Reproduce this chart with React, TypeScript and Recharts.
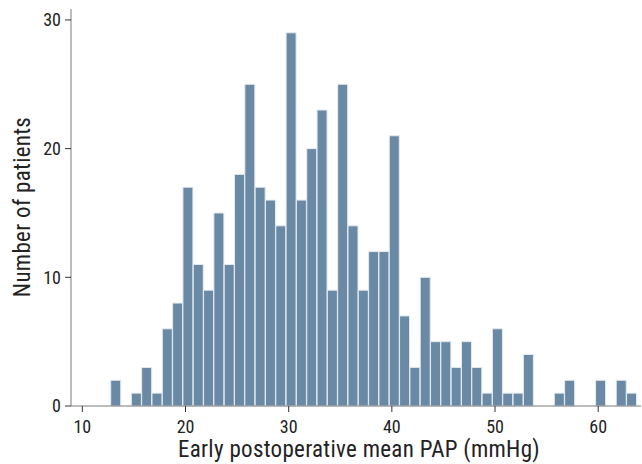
import { BarChart, Bar, XAxis, YAxis, Label } from 'recharts';

// histogram bins (left edge, width 1 mmHg) and patient counts
const binStarts = [
  12.75, 13.75, 14.75, 15.75, 16.75, 17.75, 18.75, 19.75, 20.75, 21.75,
  22.75, 23.75, 24.75, 25.75, 26.75, 27.75, 28.75, 29.75, 30.75, 31.75,
  32.75, 33.75, 34.75, 35.75, 36.75, 37.75, 38.75, 39.75, 40.75, 41.75,
  42.75, 43.75, 44.75, 45.75, 46.75, 47.75, 48.75, 49.75, 50.75, 51.75,
  52.75, 53.75, 54.75, 55.75, 56.75, 57.75, 58.75, 59.75, 60.75, 61.75,
  62.75,
];
const counts = [
  2, 0, 1, 3, 1, 6, 8, 17, 11, 9,
  15, 11, 18, 25, 17, 16, 14, 29, 16, 20,
  23, 9, 25, 14, 9, 12, 12, 21, 7, 3,
  10, 5, 5, 3, 5, 3, 1, 6, 1, 1,
  4, 0, 0, 1, 2, 0, 0, 2, 0, 2,
  1,
];
const binWidth = 1;
const xTicks = [10, 20, 30, 40, 50, 60];
const yTicks = [0, 10, 20, 30];

const data = binStarts.map((s, i) => ({ mid: s + binWidth / 2, count: counts[i] }));

const font = 'Roboto, sans-serif';
const tickStyle = { fill: '#222', fontSize: 18, fontFamily: font, fontStretch: 'condensed' };
const titleStyle = { fontStretch: 'condensed', letterSpacing: '0.3px' };

export default function App() {
  return (
    <div style={{ position: 'absolute', left: 0, top: 0, background: '#fff' }}>
      <BarChart
        width={642}
        height={464}
        data={data}
        margin={{ top: 9, right: 1, bottom: 0, left: 0 }}
        barCategoryGap={0}
        barGap={0}
      >
        <XAxis
          type="number"
          dataKey="mid"
          domain={[8.9, 64.15]}
          ticks={xTicks}
          allowDataOverflow
          height={58}
          stroke="#7a7a7a"
          tickLine={{ stroke: '#333' }}
          tickSize={6}
          tickMargin={8}
          tick={tickStyle}
        >
          <Label
            content={() => (
              <text
                x={359}
                y={456.5}
                textAnchor="middle"
                fill="#222"
                fontSize={23}
                fontFamily={font}
                style={titleStyle}
              >
                Early postoperative mean PAP (mmHg)
              </text>
            )}
          />
        </XAxis>
        <YAxis
          type="number"
          domain={[0, 30.85]}
          ticks={yTicks}
          width={71}
          stroke="#7a7a7a"
          tickLine={{ stroke: '#333' }}
          tickSize={6}
          tickMargin={4}
          tick={tickStyle}
        >
          <Label
            content={() => (
              <text
                x={29.5}
                y={207}
                textAnchor="middle"
                fill="#222"
                fontSize={23}
                fontFamily={font}
                transform="rotate(-90 29.5 207)"
                style={titleStyle}
              >
                Number of patients
              </text>
            )}
          />
        </YAxis>
        <Bar dataKey="count" fill="#6a89a5" stroke="#e4eaf0" strokeWidth={1} isAnimationActive={false} />
      </BarChart>
    </div>
  );
}
